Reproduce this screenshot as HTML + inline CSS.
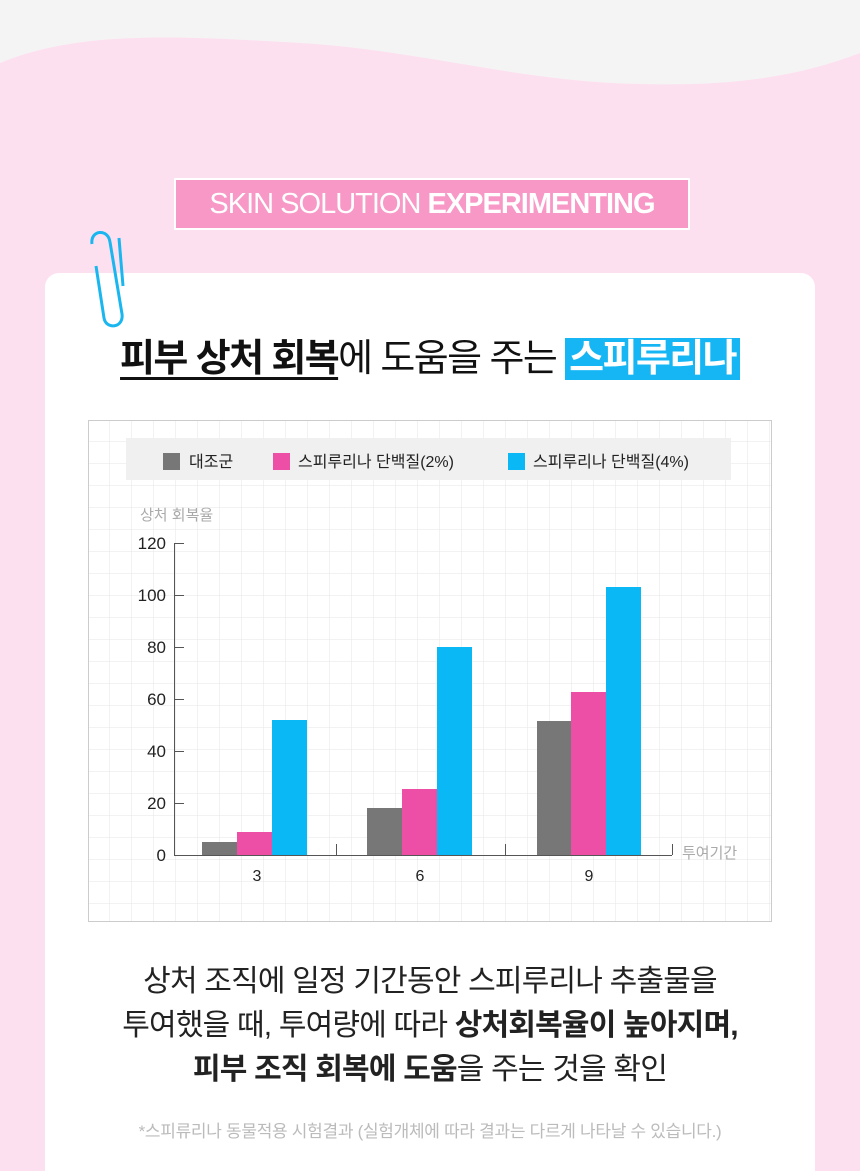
<!DOCTYPE html>
<html><head><meta charset="utf-8"><style>
*{margin:0;padding:0;box-sizing:border-box}
html,body{width:860px;height:1171px;overflow:hidden}
body{background:#fde0ef;position:relative;font-family:"Liberation Sans","Noto Sans CJK KR",sans-serif}
.abs{position:absolute}
.t{white-space:nowrap;text-align:center;left:0;width:860px}
</style></head><body>
<svg class="abs" style="left:0;top:0" width="860" height="140">
<path d="M0,0 H860 V53 C790,80 720,86 640,84 C520,82 420,50 300,43 C180,36 80,30 0,63 Z" fill="#f5f4f4"/>
</svg>
<div class="abs" style="left:174px;top:178px;width:516px;height:52px;background:#f798c6;border:2px solid #fff;color:#fff;font-size:29px;line-height:48px;text-align:center;letter-spacing:-1px">SKIN SOLUTION <b>EXPERIMENTING</b></div>
<div class="abs" style="left:45px;top:273px;width:770px;height:898px;background:#fff;border-radius:14px 14px 0 0"></div>
<svg class="abs" style="left:84px;top:226px" width="52" height="104">
<path d="M8,18 C6,4 24,2 26,16 L38,88 C40,102 22,104 20,92 L12,40" fill="none" stroke="#1ab6ef" stroke-width="3"/>
<path d="M35,12 L39,60" stroke="#1ab6ef" stroke-width="3"/>
</svg>
<div class="abs t" style="top:334px;font-size:38px;line-height:50px;color:#111;letter-spacing:-1.6px"><b style="text-decoration:underline;text-underline-offset:6px">피부 상처 회복</b>에 도움을 주는 <b style="background:#16b6f4;color:#fff;padding:0 4px">스피루리나</b></div>
<svg class="abs" style="left:88px;top:420px" width="684" height="502">
<defs><pattern id="g" width="22" height="22" patternUnits="userSpaceOnUse"><path d="M22,0 V22 M0,22 H22" stroke="#e6e6e6" stroke-width="1" fill="none"/></pattern></defs>
<rect x="0.5" y="0.5" width="683" height="501" fill="#fff" stroke="#ccc"/>
<rect x="1" y="1" width="682" height="500" fill="url(#g)"/>
<rect x="38" y="18" width="605" height="42" fill="#f0f0f0"/>
<g font-family="Liberation Sans,Noto Sans CJK KR,sans-serif" font-size="16" fill="#222">
<rect x="75" y="33" width="17" height="17" fill="#777"/><text x="101" y="47">대조군</text>
<rect x="185" y="33" width="17" height="17" fill="#ed4fa6"/><text x="210" y="47">스피루리나 단백질(2%)</text>
<rect x="420" y="33" width="17" height="17" fill="#0ab8f6"/><text x="445" y="47">스피루리나 단백질(4%)</text>
</g>
<text x="52" y="100" font-size="15" fill="#aaa" font-family="Liberation Sans,Noto Sans CJK KR,sans-serif">상처 회복율</text>
<g stroke="#555" stroke-width="1" fill="none">
<path d="M86.5,123 V435.5 H584"/>
<path d="M86.5,123.5 H96 M86.5,175.5 H96 M86.5,227.5 H96 M86.5,279.5 H96 M86.5,331.5 H96 M86.5,383.5 H96"/>
<path d="M248.5,424 V435 M417.5,424 V435 M584.5,424 V435"/>
</g>
<g font-family="Liberation Sans,sans-serif" font-size="17" fill="#222" text-anchor="end">
<text x="78" y="129">120</text><text x="78" y="181">100</text><text x="78" y="233">80</text><text x="78" y="285">60</text><text x="78" y="337">40</text><text x="78" y="389">20</text><text x="78" y="441">0</text>
</g>
<g font-family="Liberation Sans,sans-serif" font-size="16" fill="#222" text-anchor="middle">
<text x="169" y="461">3</text><text x="332" y="461">6</text><text x="501" y="461">9</text>
</g>
<text x="594" y="438" font-size="15" fill="#aaa" font-family="Liberation Sans,Noto Sans CJK KR,sans-serif">투여기간</text>
<rect x="114" y="422" width="35" height="13" fill="#777"/>
<rect x="149" y="412" width="35" height="23" fill="#ed4fa6"/>
<rect x="184" y="300" width="35" height="135" fill="#0ab8f6"/>
<rect x="279" y="388" width="35" height="47" fill="#777"/>
<rect x="314" y="369" width="35" height="66" fill="#ed4fa6"/>
<rect x="349" y="227" width="35" height="208" fill="#0ab8f6"/>
<rect x="449" y="301" width="34" height="134" fill="#777"/>
<rect x="483" y="272" width="35" height="163" fill="#ed4fa6"/>
<rect x="518" y="167" width="35" height="268" fill="#0ab8f6"/>
</svg>
<div class="abs t" style="top:960px;font-size:30px;line-height:44px;color:#222;letter-spacing:-0.8px">상처 조직에 일정 기간동안 스피루리나 추출물을<br>투여했을 때, 투여량에 따라 <b>상처회복율이 높아지며,</b><br><b>피부 조직 회복에 도움</b>을 주는 것을 확인</div>
<div class="abs t" style="top:1121px;font-size:17px;line-height:22px;color:#bbb;letter-spacing:-0.3px">*스피류리나 동물적용 시험결과 (실험개체에 따라 결과는 다르게 나타날 수 있습니다.)</div>
</body></html>
